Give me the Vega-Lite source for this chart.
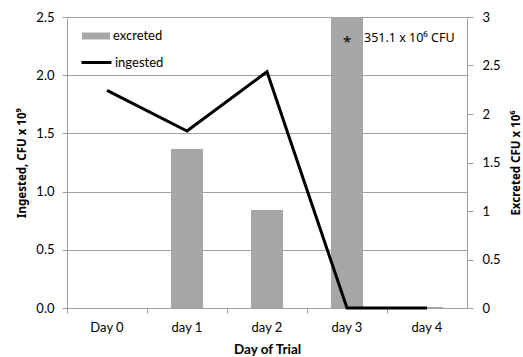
{
  "$schema": "https://vega.github.io/schema/vega-lite/v6.json",
  "width": 400,
  "height": 291,
  "autosize": "none",
  "padding": {"left": 67, "top": 17, "right": 56, "bottom": 49},
  "background": "white",
  "config": {
    "font": "Lato",
    "view": {"stroke": null},
    "axis": {"labelFont": "Lato", "titleFont": "Lato", "labelFontSize": 13, "titleFontSize": 13, "titleFontWeight": "bold", "labelColor": "#000", "titleColor": "#000", "domainColor": "#a0a0a0", "tickColor": "#a0a0a0", "gridColor": "#a0a0a0"},
    "legend": {"labelFont": "Lato", "labelFontSize": 13, "labelColor": "#000"}
  },
  "data": {
    "values": [
      {"day": "Day 0", "ingested": 1.87, "excreted": null},
      {"day": "day 1", "ingested": 1.52, "excreted": 1.64},
      {"day": "day 2", "ingested": 2.03, "excreted": 1.01},
      {"day": "day 3", "ingested": 0, "excreted": 351.1},
      {"day": "day 4", "ingested": 0, "excreted": 0.01}
    ]
  },
  "encoding": {
    "x": {
      "field": "day", "type": "nominal", "sort": ["Day 0", "day 1", "day 2", "day 3", "day 4"],
      "scale": {"domain": ["Day 0", "day 1", "day 2", "day 3", "day 4"], "paddingInner": 0, "paddingOuter": 0},
      "axis": {"title": "Day of Trial", "titleFontSize": 13.5, "labelAngle": 0, "bandPosition": 0, "tickSize": 5, "labelPadding": 8, "titlePadding": 8, "domainColor": "#a0a0a0"}
    }
  },
  "layer": [
    {
      "mark": {"type": "bar", "color": "#a6a6a6", "clip": true, "width": {"band": 0.4}},
      "encoding": {
        "y": {
          "field": "excreted", "type": "quantitative",
          "scale": {"domain": [0, 3]},
          "axis": {"orient": "right", "title": "Excreted CFU x 10⁶", "titleFont": "Noto Sans", "titleFontSize": 11.5, "titleAngle": -90, "titleBaseline": "top", "values": [0, 0.5, 1, 1.5, 2, 2.5, 3], "format": "~g", "grid": false, "tickSize": 6, "labelPadding": 9, "titlePadding": 10}
        },
        "fill": {"datum": "excreted", "type": "nominal", "scale": {"range": ["#a6a6a6"]}, "legend": {"title": null, "orient": "none", "legendX": 15, "legendY": 5, "symbolType": "M-1,-0.25H1V0.25H-1Z", "symbolSize": 784, "symbolStrokeWidth": 0, "symbolOpacity": 1, "labelOffset": 3}}
      }
    },
    {
      "mark": {"type": "text", "fontSize": 15, "font": "Noto Sans", "color": "#000"},
      "data": {"values": [{"day": "day 3", "pos": 2.74, "label": "*"}]},
      "encoding": {
        "y": {"field": "pos", "type": "quantitative", "scale": {"domain": [0, 3]}, "axis": null},
        "text": {"field": "label"}
      }
    },
    {
      "mark": {"type": "text", "fontSize": 12.5, "font": "Noto Sans", "color": "#000", "align": "left", "dx": 17},
      "data": {"values": [{"day": "day 3", "pos": 2.78, "label": "351.1 x 10⁶ CFU"}]},
      "encoding": {
        "y": {"field": "pos", "type": "quantitative", "scale": {"domain": [0, 3]}, "axis": null},
        "text": {"field": "label"}
      }
    },
    {
      "mark": {"type": "line", "color": "#000", "strokeWidth": 3},
      "encoding": {
        "y": {
          "field": "ingested", "type": "quantitative",
          "scale": {"domain": [0, 2.5]},
          "axis": {"orient": "left", "title": "Ingested, CFU x 10⁹", "titleFont": "Noto Sans", "titleFontSize": 11.5, "values": [0, 0.5, 1, 1.5, 2, 2.5], "format": ".1f", "grid": true, "tickSize": 5, "labelPadding": 8, "titlePadding": 8}
        },
        "stroke": {"datum": "ingested", "type": "nominal", "scale": {"range": ["#000"]}, "legend": {"title": null, "orient": "none", "legendX": 13, "legendY": 29, "symbolType": "stroke", "symbolSize": 900, "symbolStrokeWidth": 3, "labelOffset": 2}}
      }
    }
  ],
  "resolve": {"scale": {"y": "independent", "fill": "independent", "stroke": "independent"}, "axis": {"y": "independent"}, "legend": {"fill": "independent", "stroke": "independent"}}
}
